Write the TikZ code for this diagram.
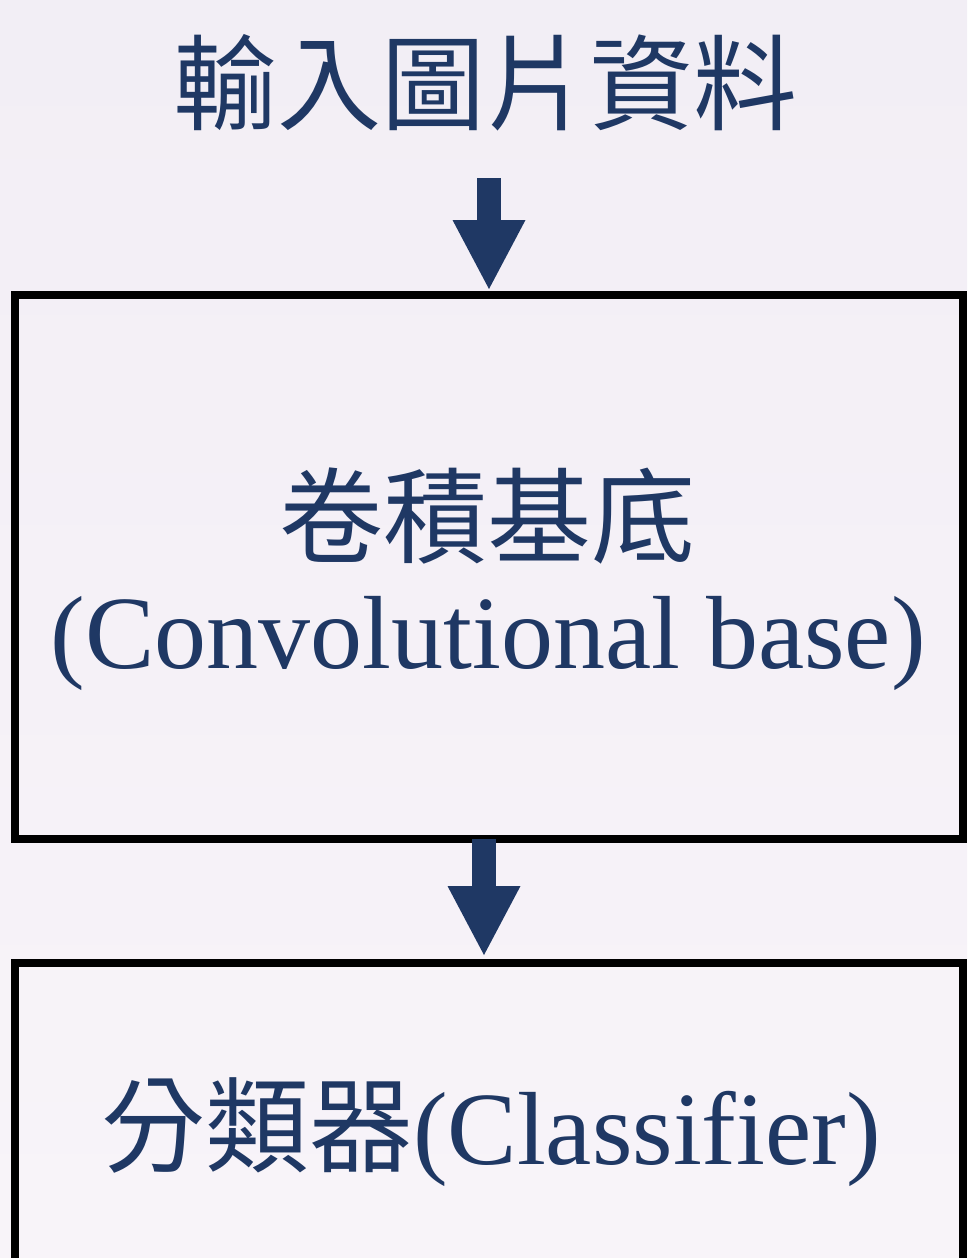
\documentclass[tikz,border=0pt]{standalone}
\usepackage{fontspec}
\setmainfont{Liberation Serif}
\newfontfamily\cjk{Noto Sans CJK TC}
\usetikzlibrary{arrows.meta}
\definecolor{navy}{HTML}{1F3864}
\definecolor{bgtop}{HTML}{F2EEF5}
\definecolor{bgbot}{HTML}{F8F4F9}
\begin{document}
\begin{tikzpicture}[x=1pt,y=-1pt,
  stagebox/.style={draw=black,line width=8pt,inner sep=0pt},
  lbl/.style={anchor=base,inner sep=0pt,text=navy,font=\fontsize{104pt}{116pt}\selectfont},
  flow/.style={draw=navy,line width=24pt,-{Triangle[width=73pt,length=69pt,line width=0pt]}}]
\useasboundingbox (0,0) rectangle (967,1258);
\clip (0,0) rectangle (967,1258);
\shade[top color=bgtop,bottom color=bgbot] (0,0) rectangle (967,1258);

\node[lbl] (title) at (485,122) {\cjk 輸入圖片資料};
\coordinate (a1top) at (489,178);

\node[stagebox,minimum width=948pt,minimum height=544pt] (conv) at (489,567) {};
\node[lbl] (convzh) at (487,555) {\cjk 卷積基底};
\node[lbl] (conven) at (488,668) {(Convolutional base)};

\node[stagebox,minimum width=948pt,minimum height=357pt] (cls) at (489,1141.5) {};
\node[lbl] (clstext) at (491,1164) {{\cjk 分類器}(Classifier)};

\draw[flow] (a1top) -- ([yshift=2pt]conv.north);
\draw[flow] ([xshift=-5pt,yshift=4pt]conv.south) -- ([xshift=-5pt,yshift=4pt]cls.north);
\end{tikzpicture}
\end{document}
